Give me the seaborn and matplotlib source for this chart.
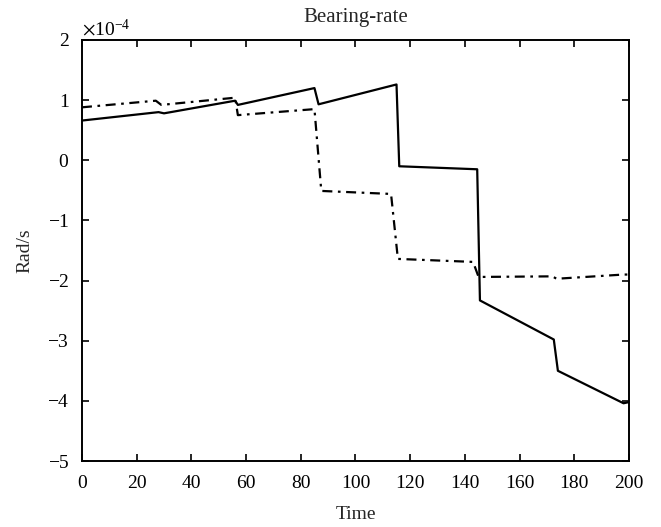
import numpy as np
import pandas as pd
import seaborn as sns
import matplotlib.pyplot as plt
from matplotlib.ticker import ScalarFormatter

# values (rad/s)
t_solid = [0, 28, 30, 56, 57, 85, 86.5, 115, 116, 144.5, 145.5, 172.5, 174, 198, 200]
rate_solid = [0.66, 0.80, 0.78, 0.99, 0.92, 1.20, 0.93, 1.26, -0.10, -0.15,
              -2.33, -2.98, -3.50, -4.04, -4.02]

t_dash = [0, 27, 29, 56, 57, 85, 87.5, 113, 115.5, 143, 145, 172, 173.5, 198, 200]
rate_dash = [0.88, 0.99, 0.92, 1.04, 0.75, 0.85, -0.51, -0.56, -1.64, -1.69,
             -1.94, -1.93, -1.97, -1.90, -1.90]

scale = 1e-4
solid = pd.DataFrame({'Time': t_solid, 'Rate': np.array(rate_solid) * scale})
dash = pd.DataFrame({'Time': t_dash, 'Rate': np.array(rate_dash) * scale})

sns.set_style('ticks')
plt.rcParams['font.family'] = ['Liberation Serif', 'DejaVu Serif']
plt.rcParams['mathtext.fontset'] = 'stix'
plt.rcParams['axes.unicode_minus'] = True

fig = plt.figure(figsize=(6.61, 5.27), dpi=100)
ax = fig.add_axes([0.124, 0.1252, 0.8276, 0.799])

sns.lineplot(data=solid, x='Time', y='Rate', ax=ax, color='black',
             linewidth=1.6, estimator=None, sort=False)
sns.lineplot(data=dash, x='Time', y='Rate', ax=ax, color='black',
             linewidth=1.6, estimator=None, sort=False, dashes=False)
ax.lines[-1].set_dashes((4.5, 2.5, 1.2, 2.5))

ax.set_xlim(0, 200)
ax.set_ylim(-5e-4, 2e-4)
ax.set_xticks(np.arange(0, 201, 20))
ax.set_yticks(np.arange(-5e-4, 2.01e-4, 1e-4))

fmt = ScalarFormatter(useMathText=True)
fmt.set_powerlimits((0, 0))
ax.yaxis.set_major_formatter(fmt)
ax.yaxis.get_offset_text().set_fontsize(14)

ax.tick_params(direction='in', top=True, right=True, length=5, width=1.2,
               labelsize=14, colors='black')
ax.tick_params(axis='x', pad=10)
ax.tick_params(axis='y', pad=9)
for s in ax.spines.values():
    s.set_linewidth(1.4)
    s.set_color('black')

ax.set_xlabel('Time', fontsize=14, labelpad=10)
ax.set_ylabel('Rad/s', fontsize=14, labelpad=10)
ax.set_title('Bearing-rate', fontsize=15, pad=13)

fig.savefig('out.png', dpi=100)
